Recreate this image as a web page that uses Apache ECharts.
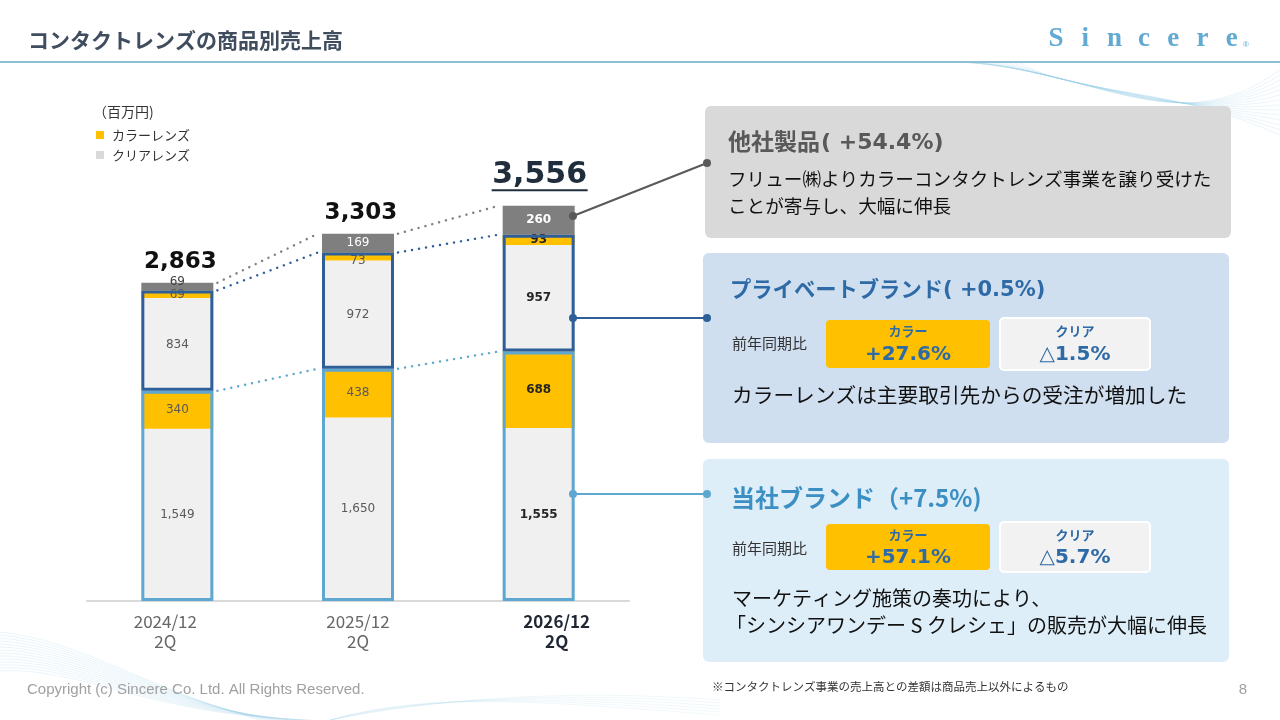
<!DOCTYPE html>
<html><head><meta charset="utf-8">
<script src="https://cdn.jsdelivr.net/npm/echarts@6/dist/echarts.min.js"></script>
<style>html,body{margin:0;padding:0;background:#fff}#c{width:1280px;height:720px}</style>
</head><body><div id="c"></div>
<script>
// ---- data ----
const categories = ['2024/12\n2Q', '2025/12\n2Q', '2026/12\n2Q'];
const ownClear   = [1549, 1650, 1555];   // 当社ブランド クリア
const ownColor   = [340, 438, 688];      // 当社ブランド カラー
const pbClear    = [834, 972, 957];      // プライベートブランド クリア
const pbColor    = [69, 73, 93];         // プライベートブランド カラー
const otherMaker = [69, 169, 260];       // 他社製品
const totals     = [2863, 3303, 3556];   // 合計（表示値）

// ---- derived ----
const ownTop = ownClear.map((v, i) => v + ownColor[i]);
const pbTop  = ownTop.map((v, i) => v + pbClear[i] + pbColor[i]);
const allTop = pbTop.map((v, i) => v + otherMaker[i]);

const JP = "'Noto Sans CJK JP', 'Noto Sans', sans-serif";
const NUM = "'DejaVu Sans', Verdana, sans-serif";
const BAR_W = 72;
const YELLOW = '#FFC000', CLEAR = '#F0F0F0', GREY = '#7F7F7F';
const LBLUE = '#5EA7D1', DBLUE = '#2E5F98';

const fmt = v => Number(v).toLocaleString('en-US');

function barData(arr, base, last, extra) {
  return arr.map((v, i) => {
    const d = { value: v, label: Object.assign({}, base) };
    if (i === 2) Object.assign(d.label, last);
    if (extra && extra[i]) Object.assign(d.label, extra[i]);
    return d;
  });
}
const baseLbl = { color: '#595959' };
const lastLbl = { color: '#262626', fontWeight: 'bold' };

function barSeries(name, arr, color, base, last, extra) {
  return {
    name, type: 'bar', stack: 'total', barWidth: BAR_W, z: 2,
    itemStyle: { color },
    label: { show: true, position: 'inside', fontFamily: NUM, fontSize: 12, formatter: p => fmt(p.value) },
    data: barData(arr, base, last, extra)
  };
}

// dotted connecting lines
function dotSeries(vals, color) {
  const data = [];
  for (let i = 0; i < vals.length - 1; i++) data.push([i, vals[i], vals[i + 1]]);
  return {
    type: 'custom', coordinateSystem: 'cartesian2d', z: 3, silent: true, clip: false,
    encode: { x: 0, y: [1, 2] },
    data,
    renderItem: (params, api) => {
      const i = api.value(0);
      const p1 = api.coord([i, api.value(1)]);
      const p2 = api.coord([i + 1, api.value(2)]);
      return {
        type: 'line',
        shape: { x1: p1[0] + BAR_W / 2 + 4, y1: p1[1], x2: p2[0] - BAR_W / 2 - 4, y2: p2[1] },
        style: { stroke: color, lineWidth: 2.4, lineDash: [0.1, 7], lineCap: 'round' }
      };
    }
  };
}

const option = {
  animation: false,
  backgroundColor: '#ffffff',
  grid: { left: 87, right: 651, top: 156, bottom: 119 },
  xAxis: {
    type: 'category',
    data: categories.map((c, i) => ({
      value: c,
      textStyle: i === 2 ? { fontWeight: 'bold', color: '#1f2733', padding: [0, 0, 0, 36] }
                : i === 0 ? { padding: [0, 24, 0, 0] } : {}
    })),
    axisLine: { lineStyle: { color: '#D9D9D9', width: 2 } },
    axisTick: { show: false },
    axisLabel: { fontFamily: JP, fontSize: 17, color: '#666666', lineHeight: 20, margin: 11 }
  },
  yAxis: { type: 'value', min: 0, max: 4000, show: false, splitLine: { show: false } },
  series: [
    barSeries('当社クリア', ownClear, CLEAR, baseLbl, lastLbl),
    barSeries('当社カラー', ownColor, YELLOW, baseLbl, lastLbl),
    barSeries('PBクリア', pbClear, CLEAR, baseLbl, lastLbl),
    barSeries('PBカラー', pbColor, YELLOW, baseLbl, lastLbl, { 0: { offset: [0, 1] }, 1: { offset: [0, 4] } }),
    barSeries('他社製品', otherMaker, GREY, { color: '#ffffff' }, { color: '#ffffff', fontWeight: 'bold' },
      { 0: { color: '#404040', offset: [0, -5] } }),
    // group outlines
    {
      type: 'custom', coordinateSystem: 'cartesian2d', z: 4, silent: true,
      encode: { x: 0, y: [1, 2] },
      data: categories.map((c, i) => [i, ownTop[i], pbTop[i]]),
      renderItem: (params, api) => {
        const i = api.value(0);
        const p0 = api.coord([i, 0]);
        const p1 = api.coord([i, api.value(1)]);
        const p2 = api.coord([i, api.value(2)]);
        const x = p0[0] - BAR_W / 2 + 1.5, w = BAR_W - 3;
        return {
          type: 'group', children: [
            { type: 'rect', shape: { x, y: p1[1] + 1.5, width: w, height: p0[1] - p1[1] - 3 },
              style: { fill: null, stroke: LBLUE, lineWidth: 3 } },
            { type: 'rect', shape: { x, y: p2[1] + 1.5, width: w, height: p1[1] - p2[1] - 3 },
              style: { fill: null, stroke: DBLUE, lineWidth: 3 } }
          ]
        };
      }
    },
    dotSeries(allTop, '#7F7F7F'),
    dotSeries(pbTop, DBLUE),
    dotSeries(ownTop, LBLUE),
    // total labels
    {
      type: 'custom', coordinateSystem: 'cartesian2d', z: 5, silent: true, clip: false,
      encode: { x: 0, y: 1 },
      data: categories.map((c, i) => [i, allTop[i], totals[i]]),
      renderItem: (params, api) => {
        const i = api.value(0);
        const p = api.coord([i, api.value(1)]);
        const last = i === categories.length - 1;
        const children = [{
          type: 'text', x: p[0] + (last ? 1 : 3), y: p[1] - (last ? 31 : 21),
          style: { text: fmt(api.value(2)), font: (last ? 'bold 30px ' : 'bold 23px ') + NUM,
                   fill: last ? '#1F2D3D' : '#111111', align: 'center', verticalAlign: 'middle' }
        }];
        if (last) children.push({
          type: 'line', shape: { x1: p[0] - 47, y1: p[1] - 15.5, x2: p[0] + 49, y2: p[1] - 15.5 },
          style: { stroke: '#1F2D3D', lineWidth: 2 }
        });
        return { type: 'group', children };
      }
    }
  ],
  graphic: []
};

// ---- decorative / annotation graphics ----
const G = option.graphic;
function T(x, y, text, font, fill, align) {
  G.push({ type: 'text', x, y, z: 10, style: { text, font, fill, align: align || 'left', verticalAlign: 'middle' } });
}
function R(x, y, w, h, fill, r, stroke, lw) {
  G.push({ type: 'rect', z: 8, shape: { x, y, width: w, height: h, r: r || 0 },
    style: { fill, stroke: stroke || null, lineWidth: lw || 0 } });
}
function L(x1, y1, x2, y2, stroke, lw) {
  G.push({ type: 'line', z: 9, shape: { x1, y1, x2, y2 }, style: { stroke, lineWidth: lw } });
}
function C(cx, cy, r, fill) {
  G.push({ type: 'circle', z: 9, shape: { cx, cy, r }, style: { fill } });
}

// waves
for (let k = 0; k < 14; k++) {
  G.push({ type: 'bezierCurve', z: 0, silent: true,
    shape: { x1: 940 + k * 6, y1: 62, cpx1: 1080, cpy1: 58 + k * 3, cpx2: 1170, cpy2: 150 - k * 5, x2: 1280, y2: 70 + k * 5 },
    style: { stroke: '#9ccde6', lineWidth: 0.7, opacity: 0.3, fill: null } });
  G.push({ type: 'bezierCurve', z: 0, silent: true,
    shape: { x1: 0, y1: 632 + k * 3, cpx1: 80, cpy1: 640 + k * 2, cpx2: 150, cpy2: 690 + k * 2, x2: 260 + k * 4, y2: 720 },
    style: { stroke: '#9ccde6', lineWidth: 0.7, opacity: 0.3, fill: null } });
}
for (let k = 0; k < 6; k++) {
  G.push({ type: 'bezierCurve', z: 0, silent: true,
    shape: { x1: 330, y1: 720, cpx1: 430, cpy1: 700 - k * 2, cpx2: 560, cpy2: 688 + k * 3, x2: 720, y2: 700 + k * 3 },
    style: { stroke: '#b5dbee', lineWidth: 0.7, opacity: 0.3, fill: null } });
}

// header
T(28, 40, 'コンタクトレンズの商品別売上高', 'bold 21px ' + JP, '#3F4D5F');
L(0, 62, 1280, 62, '#8FBFD6', 2);
['S', 'i', 'n', 'c', 'e', 'r', 'e'].forEach((ch, k) =>
  T(1056 + k * 29.3, 39, ch, "bold 27px 'Liberation Serif', serif", '#62A9D3', 'center'));
T(1246, 45, '®', "8px 'Liberation Sans'", '#62A9D3', 'center');

// legend
T(93, 112, '（百万円)', '14px ' + JP, '#333333');
R(96, 131, 8, 8, YELLOW);
T(112, 135, 'カラーレンズ', '13px ' + JP, '#333333');
R(96, 151, 8, 8, '#D9D9D9');
T(112, 155, 'クリアレンズ', '13px ' + JP, '#333333');

// connectors
L(573, 216, 707, 163, '#595959', 2); C(573, 216, 4, '#595959'); C(707, 163, 4, '#595959');
L(573, 318, 707, 318, DBLUE, 2); C(573, 318, 4, DBLUE); C(707, 318, 4, DBLUE);
L(573, 494, 707, 494, LBLUE, 2); C(573, 494, 4, LBLUE); C(707, 494, 4, LBLUE);

// panel 1 : 他社製品
R(705, 106, 526, 132, '#D9D9D9', 6);
T(728, 141, '他社製品', 'bold 23px ' + JP, '#595959');
T(821, 143, '( +54.4%)', 'bold 22px ' + NUM, '#595959');
T(728, 179, 'フリュー㈱よりカラーコンタクトレンズ事業を譲り受けた', '18.6px ' + JP, '#111111');
T(728, 206, 'ことが寄与し、大幅に伸長', '18.6px ' + JP, '#111111');

// panel 2 : プライベートブランド
R(703, 253, 526, 190, '#CFDFF0', 6);
T(730, 289, 'プライベートブランド', 'bold 21.3px ' + JP, '#2E6AA6');
T(943, 291, '( +0.5%)', 'bold 21px ' + NUM, '#2E6AA6');
T(732, 343, '前年同期比', '15px ' + JP, '#333333');
R(826, 320, 164, 48, YELLOW, 4);
R(1000, 318, 150, 52, '#F2F2F2', 4, '#FFFFFF', 2);
T(908, 331, 'カラー', 'bold 13px ' + JP, '#2E6AA6', 'center');
T(908, 355, '+27.6%', 'bold 20px ' + NUM, '#2E6AA6', 'center');
T(1075, 331, 'クリア', 'bold 13px ' + JP, '#2E6AA6', 'center');
T(1075, 355, '△1.5%', 'bold 20px ' + NUM, '#2E6AA6', 'center');
T(732, 395, 'カラーレンズは主要取引先からの受注が増加した', '20.7px ' + JP, '#111111');

// panel 3 : 当社ブランド
R(703, 459, 526, 203, '#DDEEF8', 6);
T(731, 498, '当社ブランド（+7.5%)', 'bold 24px ' + JP, '#3C8FC2');
T(732, 548, '前年同期比', '15px ' + JP, '#333333');
R(826, 524, 164, 46, YELLOW, 4);
R(1000, 522, 150, 50, '#F2F2F2', 4, '#FFFFFF', 2);
T(908, 535, 'カラー', 'bold 13px ' + JP, '#2E6AA6', 'center');
T(908, 558, '+57.1%', 'bold 20px ' + NUM, '#2E6AA6', 'center');
T(1075, 535, 'クリア', 'bold 13px ' + JP, '#2E6AA6', 'center');
T(1075, 558, '△5.7%', 'bold 20px ' + NUM, '#2E6AA6', 'center');
T(732, 598, 'マーケティング施策の奏功により、', '20px ' + JP, '#111111');
T(726, 625, '「シンシアワンデー S クレシェ」の販売が大幅に伸長', '20px ' + JP, '#111111');

// footer
T(27, 690, 'Copyright (c) Sincere Co. Ltd. All Rights Reserved.', "15px 'Liberation Sans', Arial", '#A0A0A0');
T(712, 687, '※コンタクトレンズ事業の売上高との差額は商品売上以外によるもの', '11.5px ' + JP, '#333333');
T(1243, 690, '8', "15px 'Liberation Sans', Arial", '#A0A0A0', 'center');

const chart = echarts.init(document.getElementById('c'));
chart.setOption(option);
</script>
</body></html>
